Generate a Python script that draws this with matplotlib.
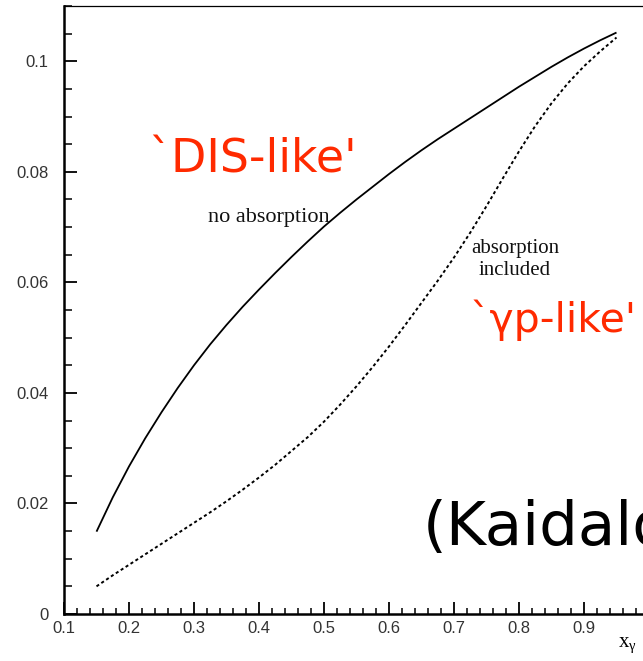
import matplotlib
matplotlib.use('Agg')
import matplotlib.pyplot as plt
from matplotlib.ticker import MultipleLocator

# x_gamma grid and the two model curves
x_gamma = [0.150, 0.175, 0.200, 0.225, 0.250, 0.275, 0.300, 0.325, 0.350, 0.375, 0.400,
           0.425, 0.450, 0.475, 0.500, 0.525, 0.550, 0.575, 0.600, 0.625, 0.650,
           0.675, 0.700, 0.725, 0.750, 0.775, 0.800, 0.825, 0.850, 0.875, 0.900,
           0.925, 0.950]
no_absorption = [0.0149, 0.0211, 0.0267, 0.0318, 0.0365, 0.0409, 0.0450, 0.0488, 0.0523,
                 0.0556, 0.0587, 0.0617, 0.0646, 0.0674, 0.0701, 0.0726, 0.0750, 0.0773,
                 0.0796, 0.0818, 0.0839, 0.0859, 0.0878, 0.0897, 0.0916, 0.0935, 0.0954,
                 0.0972, 0.0990, 0.1007, 0.1023, 0.1038, 0.1052]
absorption_incl = [0.0050, 0.0070, 0.0089, 0.0108, 0.0127, 0.0146, 0.0165, 0.0184, 0.0204,
                   0.0225, 0.0247, 0.0270, 0.0295, 0.0320, 0.0348, 0.0379, 0.0412, 0.0447,
                   0.0484, 0.0523, 0.0563, 0.0603, 0.0645, 0.0690, 0.0738, 0.0788, 0.0837,
                   0.0883, 0.0924, 0.0960, 0.0991, 0.1018, 0.1043]

xticks = [0.1, 0.2, 0.3, 0.4, 0.5, 0.6, 0.7, 0.8, 0.9]
xtick_labels = ['0.1', '0.2', '0.3', '0.4', '0.5', '0.6', '0.7', '0.8', '0.9']
yticks = [0, 0.02, 0.04, 0.06, 0.08, 0.1]
ytick_labels = ['0', '0.02', '0.04', '0.06', '0.08', '0.1']

plt.rcParams['mathtext.default'] = 'regular'

fig = plt.figure(figsize=(6.43, 6.61), dpi=100)
ax = fig.add_axes([64 / 643, 47 / 661, 585 / 643, 608 / 661])

ax.plot(x_gamma, no_absorption, color='black', linewidth=1.3, solid_capstyle='butt')
ax.plot(x_gamma, absorption_incl, color='black', linewidth=1.4,
        linestyle=(0, (1.6, 1.4)))

ax.set_xlim(0.1, 1.0)
ax.set_ylim(0, 0.11)

ax.set_xticks(xticks)
ax.set_xticklabels(xtick_labels)
ax.set_yticks(yticks)
ax.set_yticklabels(ytick_labels)
ax.xaxis.set_minor_locator(MultipleLocator(0.02))
ax.yaxis.set_minor_locator(MultipleLocator(0.005))

ax.tick_params(axis='both', which='major', direction='in', length=9, width=1.3,
               labelsize=12, labelcolor='#333333', top=False, right=False)
ax.tick_params(axis='both', which='minor', direction='in', length=4.5, width=1.1,
               top=False, right=False)
ax.tick_params(axis='y', which='major', pad=11)
ax.tick_params(axis='y', which='minor', length=5.5)
ax.tick_params(axis='x', which='major', pad=5)
for lab in ax.get_xticklabels() + ax.get_yticklabels():
    lab.set_fontfamily('Liberation Sans')

ax.spines['left'].set_linewidth(1.8)
ax.spines['bottom'].set_linewidth(1.8)
ax.spines['top'].set_linewidth(0.9)
ax.spines['right'].set_linewidth(0.9)

# axis label in the lower right corner
fig.text(627 / 643, 1 - 645 / 661, r'x$_{\gamma}$', fontsize=15,
         fontfamily='Liberation Serif', ha='center', va='center')

# curve annotations
serif = dict(fontfamily='Liberation Serif', color='#111111', ha='center', va='baseline')
ax.text(0.4146, 0.0709, 'no absorption', fontsize=16, **serif)
ax.text(0.795, 0.0653, 'absorption', fontsize=15, **serif)
ax.text(0.793, 0.0614, 'included', fontsize=15, **serif)

ax.text(0.229, 0.0799, '`DIS-like\'', fontsize=33, fontfamily='DejaVu Sans',
        ha='left', va='baseline', color='#ff2a00')
ax.text(0.7246, 0.0511, '`\u03b3p-like\'', fontsize=29.5, fontfamily='DejaVu Sans',
        ha='left', va='baseline', color='#ff2a00')

fig.text(423 / 643, 1 - 545 / 661, '(Kaidalov)', fontsize=44, fontfamily='DejaVu Sans',
         ha='left', va='baseline', color='black')

fig.savefig('out.png', dpi=100)
plt.close(fig)
